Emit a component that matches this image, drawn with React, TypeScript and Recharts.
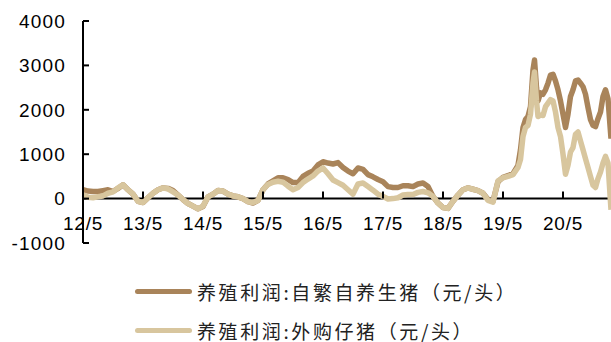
import { LineChart, Line, XAxis, YAxis, ReferenceLine } from 'recharts';

// month offsets from 2012/5 (monthly, then twice a month from 2019/8)
const months = [
  0, 1, 2, 3, 4, 5, 6, 7, 8, 9, 10, 11, 12, 13, 14, 15, 16, 17, 18, 19,
  20, 21, 22, 23, 24, 25, 26, 27, 28, 29, 30, 31, 32, 33, 34, 35, 36, 37, 38, 39,
  40, 41, 42, 43, 44, 45, 46, 47, 48, 49, 50, 51, 52, 53, 54, 55, 56, 57, 58, 59,
  60, 61, 62, 63, 64, 65, 66, 67, 68, 69, 70, 71, 72, 73, 74, 75, 76, 77, 78, 79,
  80, 81, 82, 83, 84, 85, 86, 87,
  87.5, 88, 88.5, 89, 89.5, 90, 90.3, 90.7, 91, 91.5, 92, 92.5, 93, 93.5, 94, 94.5,
  95, 95.5, 96, 96.5, 97, 97.5, 98, 98.5, 99, 99.5, 100, 100.5, 101, 101.5, 102,
  102.5, 103, 103.5, 104, 104.5, 105, 105.6,
];

// 养殖利润:自繁自养生猪（元/头）
const selfBred = [
  200, 170, 160, 160, 180, 200, 160, 230, 310, 200,
  100, -60, -90, 20, 120, 200, 240, 230, 180, 80,
  -20, -110, -170, -230, -180, 40, 100, 180, 170, 100,
  60, 40, 0, -70, -100, -40, 200, 330, 400, 470,
  470, 430, 360, 360, 500, 570, 620, 760, 830, 800,
  780, 810, 700, 620, 560, 690, 660, 540, 490, 430,
  380, 270, 250, 250, 290, 290, 270, 330, 350, 270,
  50, -100, -200, -220, -60, 80, 200, 240, 210, 180,
  120, -20, -60, 380, 480, 520, 560, 750,
  1100, 1600, 1780, 1850, 2070, 2900, 3120, 2500, 2200, 2380,
  2350, 2450, 2600, 2780, 2800, 2650, 2450, 2200, 1900, 1600,
  1900, 2300, 2450, 2650, 2670, 2600, 2520, 2350, 2050, 1780,
  1650, 1620, 1800, 1950, 2300, 2450, 2250, 1350,
];

// 养殖利润:外购仔猪（元/头）
const boughtPiglet = [
  90, 30, 20, 40, 60, 120, 150, 240, 310, 200,
  100, -60, -90, 20, 120, 200, 240, 220, 150, 80,
  -20, -110, -170, -230, -170, 40, 100, 180, 170, 100,
  60, 40, 0, -70, -90, -40, 200, 320, 370, 390,
  370, 280, 200, 250, 360, 440, 510, 620, 690, 560,
  420, 360, 300, 200, 100, 330, 350, 270, 190, 100,
  50, -10, 0, 20, 80, 90, 90, 140, 160, 130,
  50, -100, -200, -220, -60, 80, 200, 240, 210, 180,
  120, -40, -80, 400, 470, 500, 540, 700,
  880, 1400, 1600, 1650, 1900, 2600, 2850, 2200, 1850, 1880,
  1870, 2070, 2150, 2230, 2200, 1950, 1600, 1400, 1000, 550,
  750, 1050, 1150, 1450, 1500, 1300, 1100, 900, 700, 500,
  300, 250, 450, 600, 800, 950, 800, -250,
];

const xTicks = [0, 12, 24, 36, 48, 60, 72, 84, 96];
const xTickLabels = ['12/5', '13/5', '14/5', '15/5', '16/5', '17/5', '18/5', '19/5', '20/5'];
const yTicks = [-1000, 0, 1000, 2000, 3000, 4000];

const seriesNames = ['养殖利润:自繁自养生猪（元/头）', '养殖利润:外购仔猪（元/头）'];
const seriesColors = ['#A9845A', '#D8C69E'];

const data = months.map((m, i) => ({
  m,
  selfBred: selfBred[i],
  boughtPiglet: boughtPiglet[i],
}));

const W = 611;
const H = 270;
const TOP = 21;
const AXIS_H = 27;
const PLOT_H = H - TOP - AXIS_H;
const ZERO_Y = TOP + PLOT_H * (4000 / 5000);
const numFont = '"Liberation Sans", Arial, sans-serif';

// ticks sit on the zero line: short mark above, label below
const XTick = (props: any) => {
  const { x, payload } = props;
  const idx = xTicks.indexOf(payload.value);
  return (
    <g>
      {idx > 0 && (
        <line x1={x} x2={x} y1={ZERO_Y - 7} y2={ZERO_Y} stroke="#000" strokeWidth={2} />
      )}
      <text
        x={x}
        y={ZERO_Y + 31}
        textAnchor="middle"
        fontSize={19}
        fontFamily={numFont}
        letterSpacing={0.8}
        fill="#000"
      >
        {xTickLabels[idx]}
      </text>
    </g>
  );
};

const App = () => {
  return (
    <div style={{ position: 'absolute', left: 0, top: 0, width: W, height: 342, background: '#fff' }}>
      <LineChart width={W} height={H} data={data} margin={{ top: TOP, right: 0, left: 0, bottom: 0 }}>
        <XAxis
          dataKey="m"
          type="number"
          domain={[0, 105.6]}
          ticks={xTicks}
          axisLine={false}
          tickLine={false}
          height={AXIS_H}
          tick={<XTick />}
          interval={0}
        />
        <YAxis
          type="number"
          domain={[-1000, 4000]}
          ticks={yTicks}
          width={83}
          axisLine={{ stroke: '#000', strokeWidth: 2 }}
          tickLine={{ stroke: '#000', strokeWidth: 2 }}
          tickSize={-6}
          tickMargin={23}
          tick={{ fill: '#000', fontSize: 19, fontFamily: numFont, letterSpacing: 1.2 }}
          interval={0}
        />
        <ReferenceLine y={0} stroke="#000" strokeWidth={2} />
        <Line
          dataKey="selfBred"
          type="linear"
          stroke={seriesColors[0]}
          strokeWidth={5.5}
          strokeLinejoin="round"
          dot={false}
          isAnimationActive={false}
        />
        <Line
          dataKey="boughtPiglet"
          type="linear"
          stroke={seriesColors[1]}
          strokeWidth={5.5}
          strokeLinejoin="round"
          dot={false}
          isAnimationActive={false}
        />
      </LineChart>
      {seriesNames.map((name, i) => (
        <div
          key={name}
          style={{
            position: 'absolute',
            left: 135,
            top: i === 0 ? 279 : 318,
            height: 24,
            display: 'flex',
            alignItems: 'center',
          }}
        >
          <div style={{ width: 57, height: 5, borderRadius: 3, background: seriesColors[i] }} />
          <span
            style={{
              marginLeft: 5,
              fontSize: 19,
              letterSpacing: 2.6,
              color: '#222',
              fontFamily: '"Noto Sans CJK SC", sans-serif',
              whiteSpace: 'nowrap',
            }}
          >
            {name}
          </span>
        </div>
      ))}
    </div>
  );
};

export default App;
